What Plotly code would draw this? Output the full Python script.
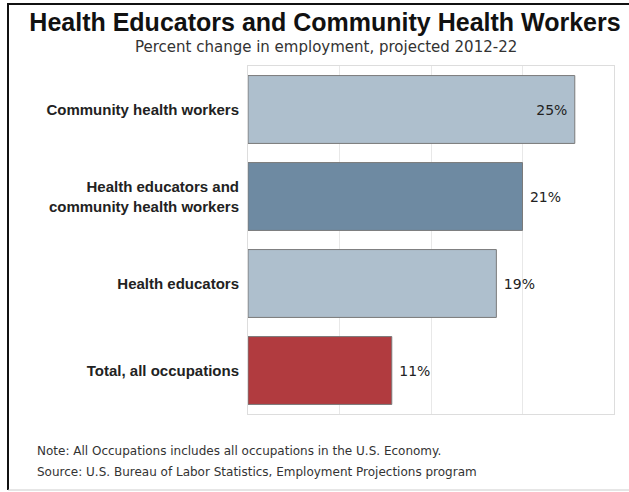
import plotly.graph_objects as go

categories = ["Community health workers",
              "Health educators and<br>community health workers",
              "Health educators",
              "Total, all occupations"]
values = [25, 21, 19, 11]
colors = ["#AEBFCD", "#6E8AA2", "#AEBFCD", "#B13B3F"]

W, H = 629, 492
L, R, T, B = 248, 15, 66, 78

positions = ["inside" if v >= 24 else "outside" for v in values]
labels = [f"{v}%\u00a0" if p == "inside" else f"\u00a0{v}%" for v, p in zip(values, positions)]

fig = go.Figure(go.Bar(
    x=values, y=categories, orientation="h",
    marker=dict(color=colors, line=dict(color="#7a7a7a", width=1)),
    text=labels, textposition=positions, insidetextanchor="end",
    textfont=dict(family="DejaVu Sans", size=14, color="#222222"),
    cliponaxis=False,
))

fig.update_layout(
    width=W, height=H,
    margin=dict(l=L, r=R, t=T, b=B),
    paper_bgcolor="white", plot_bgcolor="white",
    bargap=0.22,
    showlegend=False,
    title=dict(text="<b>Health Educators and Community Health Workers</b>",
               x=325 / W, xanchor="center", xref="container",
               y=1 - 22 / H, yanchor="middle", yref="container",
               font=dict(family="Liberation Sans", size=25, color="#111111")),
    xaxis=dict(range=[0, 28], tickvals=[0, 7, 14, 21, 28], showticklabels=False,
               showgrid=True, gridcolor="#e8e8e8", zeroline=False,
               showline=True, linecolor="#dddddd", mirror=True, ticks=""),
    yaxis=dict(autorange="reversed", showgrid=False, zeroline=False,
               showline=True, linecolor="#dddddd", mirror=True,
               ticks="", ticklabelstandoff=5,
               tickprefix="<b>", ticksuffix="</b>",
               tickfont=dict(family="Liberation Sans", size=15, color="#222222")),
    font=dict(family="DejaVu Sans"),
)

pw = W - L - R
ph = H - T - B
def px(x):
    return (x - L) / pw
def py(y):
    return 1 - (y - T) / ph

fig.add_annotation(text="Percent change in employment, projected 2012-22",
                   xref="paper", yref="paper", x=px(326), y=py(47),
                   xanchor="center", yanchor="middle", showarrow=False,
                   font=dict(family="DejaVu Sans", size=15, color="#333333"))
fig.add_annotation(text="Note: All Occupations includes all occupations in the U.S. Economy.",
                   xref="paper", yref="paper", x=px(35), y=py(451),
                   xanchor="left", yanchor="middle", showarrow=False,
                   font=dict(family="DejaVu Sans", size=12, color="#333333"))
fig.add_annotation(text="Source: U.S. Bureau of Labor Statistics, Employment Projections program",
                   xref="paper", yref="paper", x=px(35), y=py(472),
                   xanchor="left", yanchor="middle", showarrow=False,
                   font=dict(family="DejaVu Sans", size=12, color="#333333"))

# outer frame
fig.add_shape(type="line", xref="paper", yref="paper", x0=px(8), x1=px(8), y0=py(4), y1=py(490),
              line=dict(color="#111111", width=2))
fig.add_shape(type="line", xref="paper", yref="paper", x0=px(7), x1=px(629), y0=py(4), y1=py(4),
              line=dict(color="#111111", width=2))
fig.add_shape(type="line", xref="paper", yref="paper", x0=px(8), x1=px(629), y0=py(490), y1=py(490),
              line=dict(color="#cccccc", width=1))

fig.write_html("out.html")
